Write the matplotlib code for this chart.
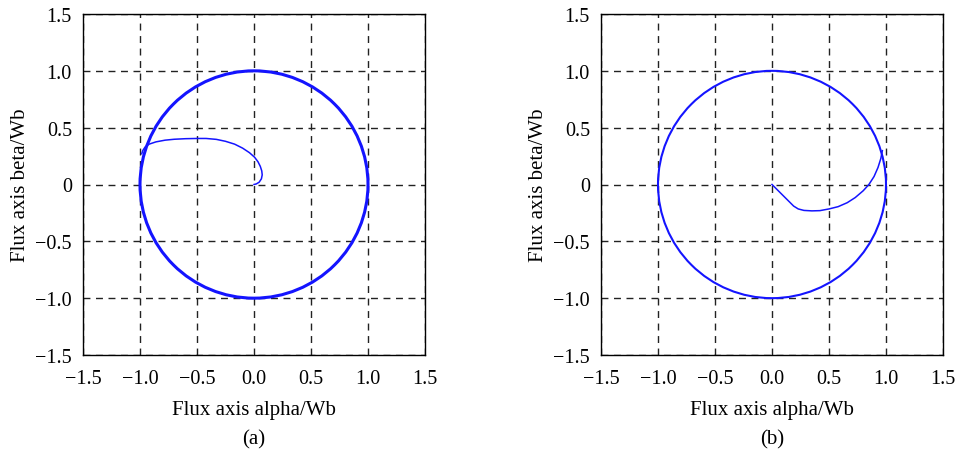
import numpy as np
import matplotlib
matplotlib.use('Agg')
import matplotlib.pyplot as plt
from matplotlib.patches import Circle

plt.rcParams['font.family'] = ['Liberation Serif', 'DejaVu Serif']

# radius of the steady-state flux circle (Wb)
flux_radius = 1.0

# start-up trajectory, panel (a)
alpha_a = [0.0, 0.02, 0.045, 0.065, 0.072, 0.068, 0.055, 0.035, 0.005, -0.04, -0.10, -0.17,
           -0.25, -0.33, -0.42, -0.50, -0.60, -0.70, -0.78, -0.86, -0.92, -0.955, -0.975, -0.985]
beta_a = [0.0, 0.005, 0.02, 0.05, 0.085, 0.12, 0.16, 0.20, 0.24, 0.28, 0.32, 0.355,
          0.38, 0.397, 0.405, 0.405, 0.403, 0.398, 0.39, 0.375, 0.355, 0.33, 0.30, 0.27]

# start-up trajectory, panel (b)
alpha_b = [0.0, 0.05, 0.10, 0.15, 0.19, 0.23, 0.28, 0.35, 0.42, 0.50, 0.58, 0.66, 0.73,
           0.80, 0.85, 0.895, 0.93, 0.955, 0.968]
beta_b = [0.0, -0.05, -0.10, -0.15, -0.19, -0.215, -0.228, -0.232, -0.23, -0.215, -0.195,
          -0.16, -0.115, -0.055, 0.0, 0.07, 0.15, 0.23, 0.298]

ticks = [-1.5, -1.0, -0.5, 0.0, 0.5, 1.0, 1.5]
xtick_labels = ['\u22121.5', '\u22121.0', '\u22120.5', '0.0', '0.5', '1.0', '1.5']
ytick_labels = ['\u22121.5', '\u22121.0', '\u22120.5', '0', '0.5', '1.0', '1.5']

fig = plt.figure(figsize=(9.6, 4.52), dpi=100)
ax1 = fig.add_axes([83/960, 96/452, 342/960, 341/452])
ax2 = fig.add_axes([601/960, 96/452, 342/960, 341/452])

blue = '#1414ff'
panels = [(ax1, alpha_a, beta_a, '(a)', 2.2), (ax2, alpha_b, beta_b, '(b)', 1.5)]
for ax, xa, yb, tag, lw_circ in panels:
    ax.add_patch(Circle((0, 0), flux_radius, fill=False, color=blue, lw=lw_circ, zorder=3))
    ax.plot(xa, yb, color=blue, lw=1.1, zorder=3)
    ax.set_xlim(-1.5, 1.5)
    ax.set_ylim(-1.5, 1.5)
    ax.set_xticks(ticks)
    ax.set_yticks(ticks)
    ax.set_xticklabels(xtick_labels)
    ax.set_yticklabels(ytick_labels)
    ax.tick_params(length=0, labelsize=14.5)
    ax.tick_params(axis='x', pad=10)
    ax.tick_params(axis='y', pad=8)
    ax.grid(True, color='#222222', linestyle=(0, (5, 4)), linewidth=1.0)
    for s in ax.spines.values():
        s.set_linewidth(1.0)
    ax.set_xlabel('Flux axis alpha/Wb', fontsize=15, labelpad=9)
    ax.set_ylabel('Flux axis beta/Wb', fontsize=15, labelpad=4)
    ax.text(0.5, -0.245, tag, transform=ax.transAxes, ha='center', va='center', fontsize=15)

fig.savefig('out.png', dpi=100)
